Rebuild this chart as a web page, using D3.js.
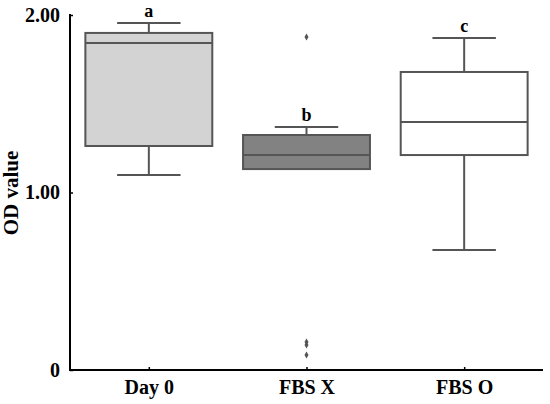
<!DOCTYPE html>
<html>
<head>
<meta charset="utf-8">
<script src="https://cdn.jsdelivr.net/npm/d3@7"></script>
<style>
  html, body { margin: 0; padding: 0; background: #fff; }
  svg { display: block; }
  text { font-family: "Liberation Serif", "Times New Roman", serif; font-weight: bold; }
</style>
</head>
<body>
<svg id="chart" width="550" height="404"></svg>
<script>
// ---- data ----
const categories = ["Day 0", "FBS X", "FBS O"];
const whiskerLow  = [1.099, 1.132, 0.676];
const q1          = [1.262, 1.132, 1.211];
const median      = [1.842, 1.211, 1.397];
const q3          = [1.899, 1.324, 1.679];
const whiskerHigh = [1.955, 1.369, 1.870];
const outliers    = [[], [1.876, 0.158, 0.141, 0.085], []];
const letters     = ["a", "b", "c"];
const yTickValues = [0, 1, 2];
const yTickLabels = ["0", "1.00", "2.00"];

// ---- styles ----
const fills = ["#d3d3d3", "#828282", "#ffffff"];
const boxStroke = "#555555";
const fs = 20;

const svg = d3.select("#chart");
const x = d3.scalePoint().domain(categories).range([70, 543]).padding(0.5);
const y = d3.scaleLinear().domain([0, 2]).range([370, 15]);
const step = x.step();
const boxW = step * 0.805;
const capW = boxW * 0.5;

// axes
const yAxis = d3.axisLeft(y).tickValues(yTickValues)
  .tickFormat((d, i) => yTickLabels[i]).tickSize(-3).tickPadding(10);
const gy = svg.append("g").attr("transform", "translate(70,0)").call(yAxis);
gy.select(".domain").attr("d", "M0,14V371").attr("stroke", "#000").attr("stroke-width", 2);
gy.selectAll(".tick line").attr("stroke", "#000").attr("stroke-width", 1.5);
gy.selectAll(".tick text").attr("font-size", fs).attr("fill", "#000")
  .attr("font-family", "Liberation Serif").attr("font-weight", "bold");

const xAxis = d3.axisBottom(x).tickSize(-3).tickPadding(12);
const gx = svg.append("g").attr("transform", "translate(0,370)").call(xAxis);
gx.select(".domain").attr("d", "M69,0H543").attr("stroke", "#000").attr("stroke-width", 2);
gx.selectAll(".tick line").attr("stroke", "#000").attr("stroke-width", 1.5);
gx.selectAll(".tick text").attr("font-size", fs).attr("fill", "#000")
  .attr("font-family", "Liberation Serif").attr("font-weight", "bold")
  .attr("dy", "0.6em");

// y label
svg.append("text")
  .attr("transform", "translate(18,193) rotate(-90)")
  .attr("text-anchor", "middle")
  .attr("font-size", 21)
  .text("OD value");

// boxes
categories.forEach((c, i) => {
  const cx = x(c);
  const g = svg.append("g");
  // whiskers
  g.append("line").attr("x1", cx).attr("x2", cx)
    .attr("y1", y(q3[i])).attr("y2", y(whiskerHigh[i]))
    .attr("stroke", boxStroke).attr("stroke-width", 2);
  g.append("line").attr("x1", cx - capW / 2).attr("x2", cx + capW / 2)
    .attr("y1", y(whiskerHigh[i])).attr("y2", y(whiskerHigh[i]))
    .attr("stroke", boxStroke).attr("stroke-width", 2);
  if (whiskerLow[i] < q1[i]) {
    g.append("line").attr("x1", cx).attr("x2", cx)
      .attr("y1", y(q1[i])).attr("y2", y(whiskerLow[i]))
      .attr("stroke", boxStroke).attr("stroke-width", 2);
    g.append("line").attr("x1", cx - capW / 2).attr("x2", cx + capW / 2)
      .attr("y1", y(whiskerLow[i])).attr("y2", y(whiskerLow[i]))
      .attr("stroke", boxStroke).attr("stroke-width", 2);
  }
  // box
  g.append("rect")
    .attr("x", cx - boxW / 2).attr("width", boxW)
    .attr("y", y(q3[i])).attr("height", y(q1[i]) - y(q3[i]))
    .attr("fill", fills[i]).attr("stroke", boxStroke).attr("stroke-width", 2);
  // median
  g.append("line").attr("x1", cx - boxW / 2).attr("x2", cx + boxW / 2)
    .attr("y1", y(median[i])).attr("y2", y(median[i]))
    .attr("stroke", boxStroke).attr("stroke-width", 2);
  // outliers
  outliers[i].forEach(v => {
    const py = y(v);
    g.append("path")
      .attr("d", `M${cx},${py - 3.5}L${cx + 2},${py}L${cx},${py + 3.5}L${cx - 2},${py}Z`)
      .attr("fill", "#555");
  });
  // letter
  svg.append("text")
    .attr("x", cx).attr("y", y(whiskerHigh[i]) - 6)
    .attr("text-anchor", "middle").attr("font-size", 18)
    .text(letters[i]);
});
</script>
</body>
</html>
